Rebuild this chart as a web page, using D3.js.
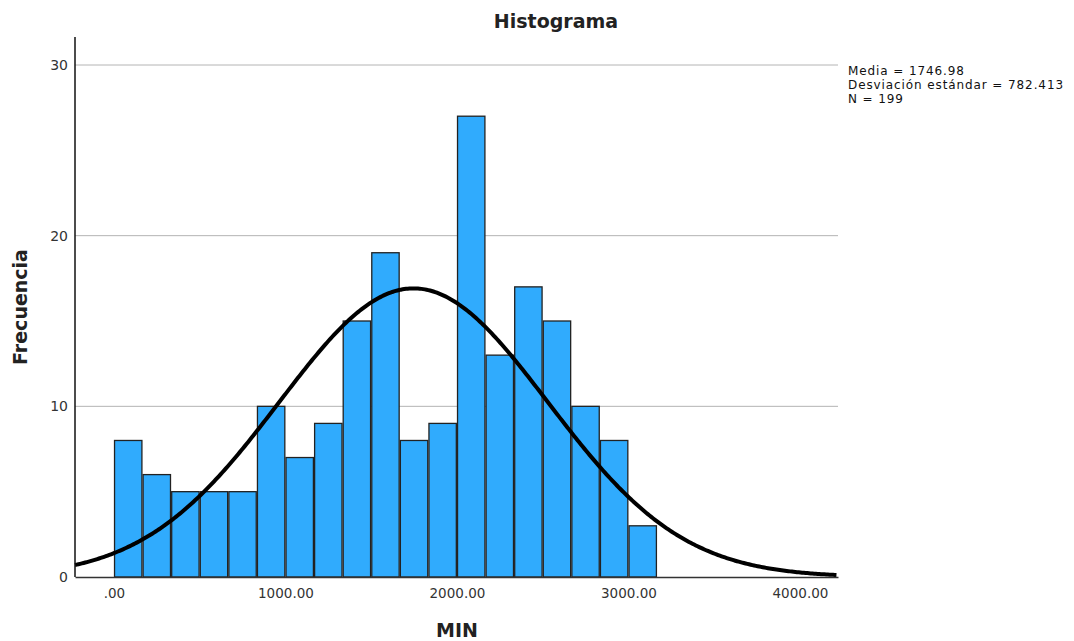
<!DOCTYPE html>
<html>
<head>
<meta charset="utf-8">
<script src="https://cdn.jsdelivr.net/npm/d3@7"></script>
<style>
  body { margin: 0; background: #fff; }
  svg { display: block; }
  text { font-family: "DejaVu Sans", sans-serif; fill: #222; }
</style>
</head>
<body>
<svg id="chart" width="1074" height="641"></svg>
<script>
// Histogram of MIN: bin start points and frequencies
const binStarts = [0, 166.67, 333.33, 500, 666.67, 833.33, 1000, 1166.67, 1333.33, 1500,
                   1666.67, 1833.33, 2000, 2166.67, 2333.33, 2500, 2666.67, 2833.33, 3000];
const binWidth = 166.67;
const counts = [8, 6, 5, 5, 5, 10, 7, 9, 15, 19, 8, 9, 27, 13, 17, 15, 10, 8, 3];

// Summary statistics for the fitted normal curve
const mean = 1746.98;
const stdDev = 782.413;
const n = 199;
const statsLines = ["Media = 1746.98", "Desviación estándar = 782.413", "N = 199"];

const xTicks = [0, 1000, 2000, 3000, 4000];
const yTicks = [0, 10, 20, 30];

const svg = d3.select("#chart");
const plot = { left: 75, right: 838, top: 37, bottom: 577 };

const x = d3.scaleLinear().domain([-227, 4222]).range([plot.left, plot.right]);
const y = d3.scaleLinear().domain([0, 30]).range([plot.bottom, 65]);

// gridlines
svg.append("g").selectAll("line")
  .data(yTicks.filter(d => d > 0))
  .join("line")
  .attr("x1", plot.left).attr("x2", plot.right)
  .attr("y1", d => y(d)).attr("y2", d => y(d))
  .attr("stroke", "#b4b4b4").attr("stroke-width", 1);

// bars
svg.append("g").selectAll("rect")
  .data(counts.map((c, i) => ({ x0: binStarts[i], c })))
  .join("rect")
  .attr("x", d => x(d.x0) + 0.6)
  .attr("width", d => x(d.x0 + binWidth) - x(d.x0) - 1.2)
  .attr("y", d => y(d.c))
  .attr("height", d => y(0) - y(d.c))
  .attr("fill", "#30abfd")
  .attr("stroke", "#222")
  .attr("stroke-width", 1.3);

// fitted normal curve scaled to frequency
const scale = n * binWidth / (stdDev * Math.sqrt(2 * Math.PI));
const curvePts = d3.range(-227, 4222.1, 10).map(v => [v, scale * Math.exp(-0.5 * ((v - mean) / stdDev) ** 2)]);
svg.append("path")
  .datum(curvePts)
  .attr("fill", "none")
  .attr("stroke", "#000")
  .attr("stroke-width", 4)
  .attr("d", d3.line().x(d => x(d[0])).y(d => y(d[1])));

// axes
const xAxis = d3.axisBottom(x).tickValues(xTicks).tickSize(0)
  .tickFormat(d => d === 0 ? ".00" : d3.format(".2f")(d));
const gx = svg.append("g").attr("transform", `translate(0,${plot.bottom})`).call(xAxis);
gx.select(".domain").attr("stroke", "#333").attr("stroke-width", 1.5);
gx.selectAll("text").attr("dy", "1.3em").style("font-size", "13.5px").style("fill", "#333");

const yAxis = d3.axisLeft(y).tickValues(yTicks).tickSize(0).tickPadding(7);
const gy = svg.append("g").attr("transform", `translate(${plot.left},0)`).call(yAxis);
gy.select(".domain").remove();
gy.selectAll("text").style("font-size", "14px").style("fill", "#333");
svg.append("line")
  .attr("x1", plot.left).attr("x2", plot.left)
  .attr("y1", plot.top).attr("y2", plot.bottom)
  .attr("stroke", "#111").attr("stroke-width", 1.5);

// title
svg.append("text")
  .attr("x", 556).attr("y", 28)
  .attr("text-anchor", "middle")
  .style("font-size", "19px").style("font-weight", "bold")
  .text("Histograma");

// axis titles
svg.append("text")
  .attr("x", 457).attr("y", 637)
  .attr("text-anchor", "middle")
  .style("font-size", "19px").style("font-weight", "bold")
  .text("MIN");
svg.append("text")
  .attr("transform", "translate(27,307) rotate(-90)")
  .attr("text-anchor", "middle")
  .style("font-size", "19px").style("font-weight", "bold")
  .text("Frecuencia");

// statistics box
svg.append("g").selectAll("text")
  .data(statsLines)
  .join("text")
  .attr("x", 848)
  .attr("y", (d, i) => 75 + i * 14)
  .style("font-size", "12px")
  .style("letter-spacing", "0.9px")
  .style("fill", "#111")
  .text(d => d);
</script>
</body>
</html>
